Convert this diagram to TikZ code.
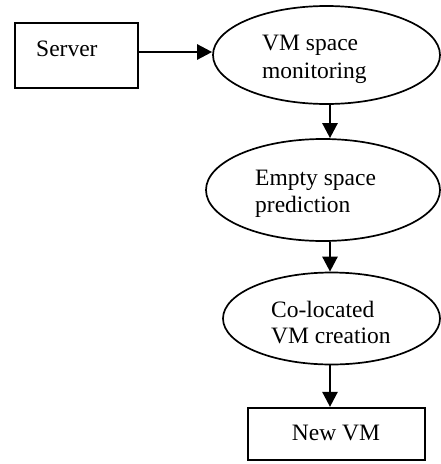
\documentclass[tikz,border=0pt]{standalone}
\usepackage{fontspec}
\setmainfont{Liberation Serif}
\usetikzlibrary{shapes.geometric,arrows.meta}
\tikzset{
  ell/.style={draw=black, line width=1.7pt, ellipse, inner sep=0pt},
  boxnode/.style={draw=black, line width=2.2pt, rectangle, inner sep=0pt},
  txt/.style={inner sep=0pt, font=\fontsize{23.5}{28}\selectfont, anchor=base west},
  arr/.style={line width=2.6pt, -{Triangle[length=15pt, width=15pt]}}
}
\begin{document}
\begin{tikzpicture}[x=1pt, y=-1pt]
\useasboundingbox (0,0) rectangle (441,464);
% shapes
\node[boxnode, minimum width=123pt, minimum height=65pt] (server) at (76.5,55.5) {};
\node[ell, minimum width=227pt, minimum height=98pt] (e1) at (326.5,55) {};
\node[ell, minimum width=234pt, minimum height=102pt] (e2) at (323,190) {};
\node[ell, minimum width=217pt, minimum height=92pt] (e3) at (331.5,318.5) {};
\node[boxnode, minimum width=177pt, minimum height=52pt] (newvm) at (336.5,434) {};
% texts
\node[txt] (ts) at (36,56) {Server};
\node[txt] (t1a) at (262,50) {VM space};
\node[txt] (t1b) at (262,78) {monitoring};
\node[txt] (t2a) at (255,185) {Empty space};
\node[txt] (t2b) at (255,212) {prediction};
\node[txt] (t3a) at (271,317) {Co-located};
\node[txt] (t3b) at (271,343) {VM creation};
\node[txt, anchor=base] (t4) at (336,440) {New VM};
% connectors
\coordinate (ax) at (330,0);
\draw[arr] ([yshift=3.5pt]server.east) -- ([yshift=3pt]e1.west);
\draw[arr] (e1.south -| ax) -- (e2.north -| ax);
\draw[arr] (e2.south -| ax) -- (e3.north -| ax);
\draw[arr] (e3.south -| ax) -- (newvm.north -| ax);
\end{tikzpicture}
\end{document}
